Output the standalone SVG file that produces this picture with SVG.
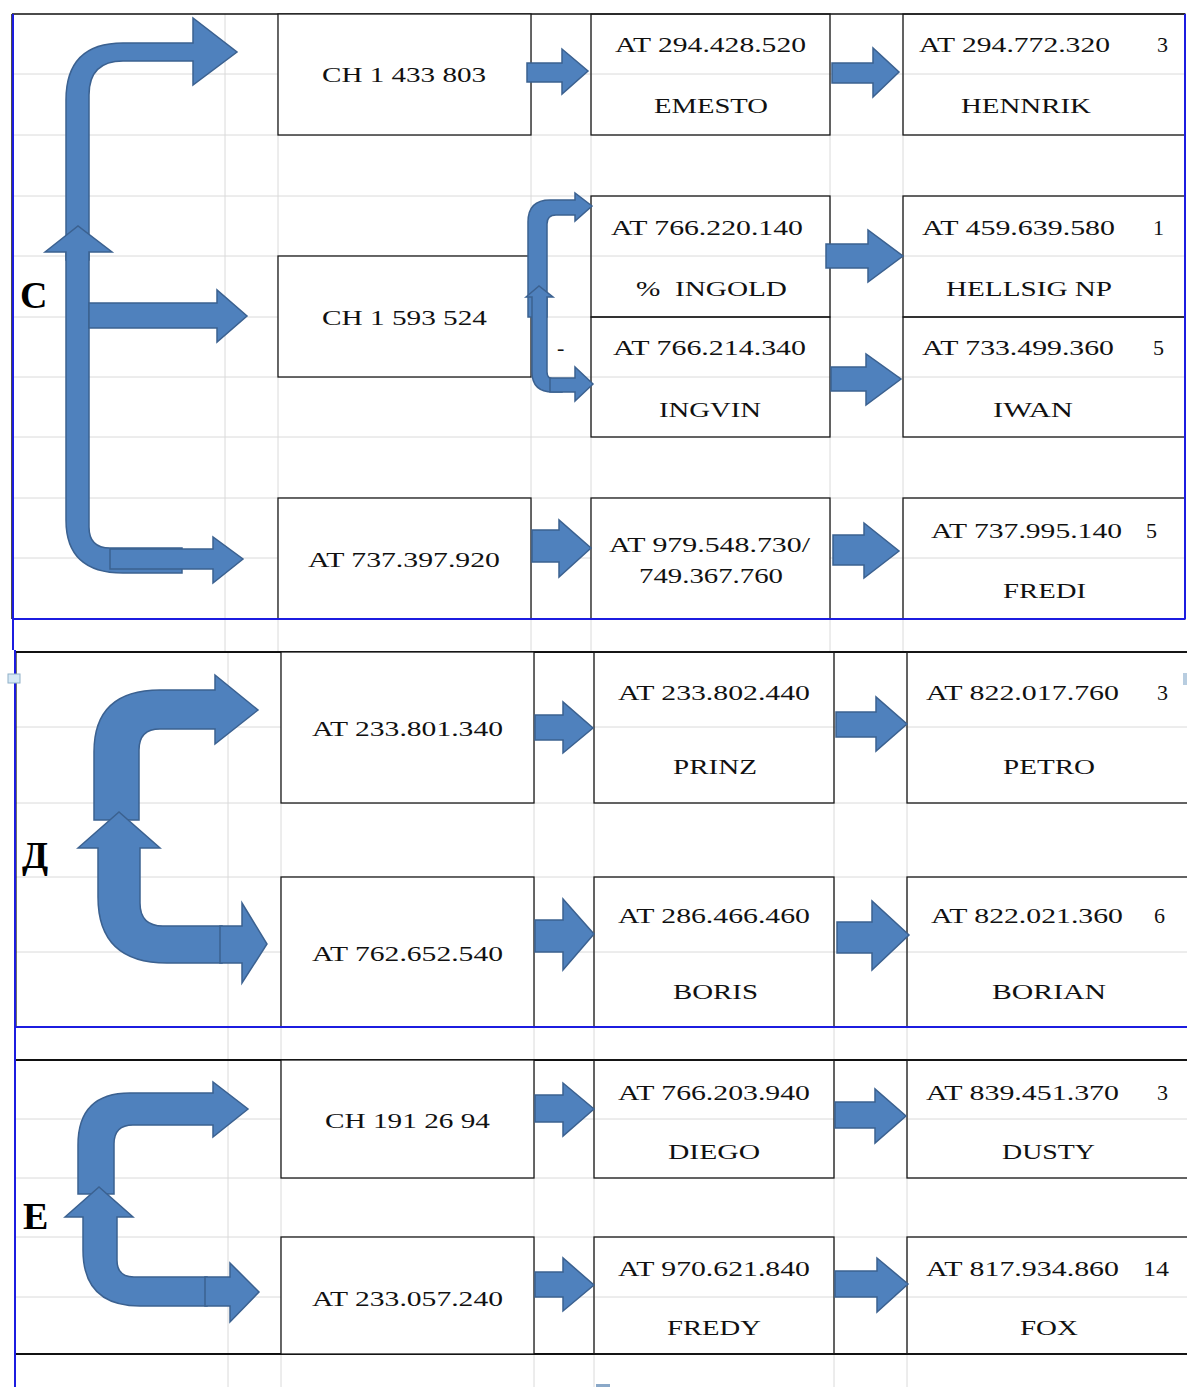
<svg xmlns="http://www.w3.org/2000/svg" width="1187" height="1387" viewBox="0 0 1187 1387">
<style>
.grid{stroke:#dadada;stroke-width:1;fill:none}
.box{fill:none;stroke:#1a1a1a;stroke-width:1.3}
.boxw{fill:#fff;stroke:#1a1a1a;stroke-width:1.3}
.edge{stroke:#111;fill:none}
.blue{stroke:#1c1ce0;stroke-width:2;fill:none}
.arr{fill:#4f81bd;stroke:#3b6190;stroke-width:1.5;stroke-linejoin:miter}
.t{font-family:"Liberation Serif","Times New Roman",serif;font-size:22px;fill:#111;white-space:pre}
.sec{font-family:"Liberation Serif","Times New Roman",serif;font-size:38px;font-weight:bold;fill:#000}
</style>
<rect width="1187" height="1387" fill="#fff"/>
<g id="gridlines">
<path class="grid" d="M12,74H1185M12,135H1185M12,196H1185M12,256H1185M12,317H1185M12,377H1185M12,437H1185M12,498H1185M12,558H1185"/>
<path class="grid" d="M225,14V652M278,14V652M531,14V652M591,14V652M830,14V652M903,14V652"/>
<path class="grid" d="M15,727H1187M15,803H1187M15,877H1187M15,952H1187"/>
<path class="grid" d="M15,1119H1187M15,1178H1187M15,1237H1187M15,1297H1187"/>
<path class="grid" d="M228,652V1387M281,652V1387M534,652V1387M594,652V1387M834,652V1387M907,652V1387"/>
</g>
<g id="frames">
<path class="edge" stroke-width="1.5" d="M12,14H1185M12,14V619"/>
<path class="edge" stroke-width="2.2" d="M15,652H1187M15.5,652V1027"/>
<path class="edge" stroke-width="1.8" d="M15,1060H1187M15,1060V1354M15,1354H1187"/>
</g>
<g id="labels">
<text class="sec" x="20" y="308">C</text>
<text class="sec" x="22" y="868">Д</text>
<text class="sec" x="23" y="1229">E</text>
</g>
<g id="n-ch1433803"><rect class="boxw" x="278" y="14" width="253" height="121"/><text class="t" x="322" y="82" textLength="164" lengthAdjust="spacingAndGlyphs">CH 1 433 803</text></g>
<g id="n-emesto"><rect class="box" x="591" y="14" width="239" height="121"/><text class="t" x="615" y="52" textLength="191" lengthAdjust="spacingAndGlyphs">AT 294.428.520</text><text class="t" x="654" y="113" textLength="114" lengthAdjust="spacingAndGlyphs">EMESTO</text></g>
<g id="n-hennrik"><rect class="box" x="903" y="14" width="282" height="121"/><text class="t" x="919" y="52" textLength="191" lengthAdjust="spacingAndGlyphs">AT 294.772.320</text><text class="t" x="1157" y="52">3</text><text class="t" x="961" y="113" textLength="130" lengthAdjust="spacingAndGlyphs">HENNRIK</text></g>
<g id="n-ch1593524"><rect class="boxw" x="278" y="256" width="253" height="121"/><text class="t" x="322" y="325" textLength="165" lengthAdjust="spacingAndGlyphs">CH 1 593 524</text></g>
<g id="n-ingold"><rect class="box" x="591" y="196" width="239" height="121"/><text class="t" x="611" y="235" textLength="192" lengthAdjust="spacingAndGlyphs">AT 766.220.140</text><text class="t" x="636" y="296" textLength="151" lengthAdjust="spacingAndGlyphs">%  INGOLD</text></g>
<g id="n-ingvin"><rect class="box" x="591" y="317" width="239" height="120"/><text class="t" x="613" y="355" textLength="193" lengthAdjust="spacingAndGlyphs">AT 766.214.340</text><text class="t" x="659" y="417" textLength="102" lengthAdjust="spacingAndGlyphs">INGVIN</text></g>
<g id="n-hellsig"><rect class="box" x="903" y="196" width="282" height="121"/><text class="t" x="922" y="235" textLength="193" lengthAdjust="spacingAndGlyphs">AT 459.639.580</text><text class="t" x="1153" y="235">1</text><text class="t" x="946" y="296" textLength="166" lengthAdjust="spacingAndGlyphs">HELLSIG NP</text></g>
<g id="n-iwan"><rect class="box" x="903" y="317" width="282" height="120"/><text class="t" x="922" y="355" textLength="192" lengthAdjust="spacingAndGlyphs">AT 733.499.360</text><text class="t" x="1153" y="355">5</text><text class="t" x="993" y="417" textLength="80" lengthAdjust="spacingAndGlyphs">IWAN</text></g>
<g id="n-at737397920"><rect class="boxw" x="278" y="498" width="253" height="121"/><text class="t" x="308" y="567" textLength="192" lengthAdjust="spacingAndGlyphs">AT 737.397.920</text></g>
<g id="n-at979548730"><rect class="boxw" x="591" y="498" width="239" height="121"/><text class="t" x="609" y="552" textLength="201" lengthAdjust="spacingAndGlyphs">AT 979.548.730/</text><text class="t" x="639" y="583" textLength="144" lengthAdjust="spacingAndGlyphs">749.367.760</text></g>
<g id="n-fredi"><rect class="box" x="903" y="498" width="282" height="121"/><text class="t" x="931" y="538" textLength="191" lengthAdjust="spacingAndGlyphs">AT 737.995.140</text><text class="t" x="1146" y="538">5</text><text class="t" x="1003" y="598" textLength="83" lengthAdjust="spacingAndGlyphs">FREDI</text></g>
<g id="n-at233801340"><rect class="boxw" x="281" y="652" width="253" height="151"/><text class="t" x="312" y="736" textLength="191" lengthAdjust="spacingAndGlyphs">AT 233.801.340</text></g>
<g id="n-prinz"><rect class="box" x="594" y="652" width="240" height="151"/><text class="t" x="618" y="700" textLength="192" lengthAdjust="spacingAndGlyphs">AT 233.802.440</text><text class="t" x="673" y="774" textLength="84" lengthAdjust="spacingAndGlyphs">PRINZ</text></g>
<g id="n-petro"><rect class="box" x="907" y="652" width="281" height="151"/><text class="t" x="926" y="700" textLength="193" lengthAdjust="spacingAndGlyphs">AT 822.017.760</text><text class="t" x="1157" y="700">3</text><text class="t" x="1003" y="774" textLength="92" lengthAdjust="spacingAndGlyphs">PETRO</text></g>
<g id="n-at762652540"><rect class="boxw" x="281" y="877" width="253" height="150"/><text class="t" x="312" y="961" textLength="191" lengthAdjust="spacingAndGlyphs">AT 762.652.540</text></g>
<g id="n-boris"><rect class="box" x="594" y="877" width="240" height="150"/><text class="t" x="618" y="923" textLength="192" lengthAdjust="spacingAndGlyphs">AT 286.466.460</text><text class="t" x="673" y="999" textLength="85" lengthAdjust="spacingAndGlyphs">BORIS</text></g>
<g id="n-borian"><rect class="box" x="907" y="877" width="281" height="150"/><text class="t" x="931" y="923" textLength="192" lengthAdjust="spacingAndGlyphs">AT 822.021.360</text><text class="t" x="1154" y="923">6</text><text class="t" x="992" y="999" textLength="114" lengthAdjust="spacingAndGlyphs">BORIAN</text></g>
<g id="n-ch1912694"><rect class="boxw" x="281" y="1060" width="253" height="118"/><text class="t" x="325" y="1128" textLength="165" lengthAdjust="spacingAndGlyphs">CH 191 26 94</text></g>
<g id="n-diego"><rect class="box" x="594" y="1060" width="240" height="118"/><text class="t" x="618" y="1100" textLength="192" lengthAdjust="spacingAndGlyphs">AT 766.203.940</text><text class="t" x="668" y="1159" textLength="92" lengthAdjust="spacingAndGlyphs">DIEGO</text></g>
<g id="n-dusty"><rect class="box" x="907" y="1060" width="281" height="118"/><text class="t" x="926" y="1100" textLength="193" lengthAdjust="spacingAndGlyphs">AT 839.451.370</text><text class="t" x="1157" y="1100">3</text><text class="t" x="1002" y="1159" textLength="93" lengthAdjust="spacingAndGlyphs">DUSTY</text></g>
<g id="n-at233057240"><rect class="boxw" x="281" y="1237" width="253" height="117"/><text class="t" x="312" y="1306" textLength="191" lengthAdjust="spacingAndGlyphs">AT 233.057.240</text></g>
<g id="n-fredy"><rect class="box" x="594" y="1237" width="240" height="117"/><text class="t" x="618" y="1276" textLength="192" lengthAdjust="spacingAndGlyphs">AT 970.621.840</text><text class="t" x="667" y="1335" textLength="94" lengthAdjust="spacingAndGlyphs">FREDY</text></g>
<g id="n-fox"><rect class="box" x="907" y="1237" width="281" height="117"/><text class="t" x="926" y="1276" textLength="193" lengthAdjust="spacingAndGlyphs">AT 817.934.860</text><text class="t" x="1143" y="1276" textLength="26" lengthAdjust="spacingAndGlyphs">14</text><text class="t" x="1020" y="1335" textLength="58" lengthAdjust="spacingAndGlyphs">FOX</text></g>
<g id="dash"><text class="t" x="557" y="355">-</text></g>
<g id="bluelines">
<path class="blue" d="M13,14V650M15,650V1387"/>
<path class="blue" d="M12,619H1185M1185,14V619M15,1027H1187"/>
<rect x="8" y="674" width="12" height="9" fill="#d6e9f5" stroke="#8fb0c8" stroke-width="1"/>
<rect x="1183" y="673" width="4" height="12" fill="#b8cde0"/>
<rect x="596" y="1384" width="14" height="3" fill="#8aa8c8"/>
</g>
<g id="connectors">
<path class="arr" d="M66,260 L66,100 Q66,43 123,43 L193,43 L193,18 L237,52 L193,85 L193,61 L123,61 Q89,61 89,95 L89,260 Z"/>
<path class="arr" d="M45,252 L78,226 L112,252 L89,252 L89,527 Q89,548 110,548 L182,548 L182,573 L123,573 Q66,573 66,520 L66,252 Z"/>
<path class="arr" d="M110,549 L213,549 L213,537 L243,559 L213,583 L213,569 L110,569 Z"/>
<path class="arr" d="M89,303 L217,303 L217,290 L247,316 L217,342 L217,328 L89,328 Z"/>
<path class="arr" d="M528,317 L528,222 Q528,200 550,200 L575,200 L575,193 L592,206 L575,221 L575,215 L556,215 Q547,215 547,224 L547,317 Z"/>
<path class="arr" d="M526,297 L539,286 L553,297 L547,297 L547,372 Q547,379 554,379 L562,379 L562,392 L553,392 Q532,392 532,372 L532,297 Z"/>
<path class="arr" d="M550,378 L575,378 L575,367 L593,384 L575,401 L575,392 L550,392 Z"/>
<path class="arr" d="M94,820 L94,752 Q94,690 160,690 L215,690 L215,675 L258,710 L215,744 L215,729 L160,729 Q139,729 139,750 L139,820 Z"/>
<path class="arr" d="M78,848 L119,812 L160,848 L140,848 L140,903 Q140,926 163,926 L222,926 L222,963 L167,963 Q98,963 98,897 L98,848 Z"/>
<path class="arr" d="M220,926 L242,926 L242,903 L267,944 L242,983 L242,963 L220,963 Z"/>
<path class="arr" d="M78,1194 L78,1145 Q78,1093 130,1093 L213,1093 L213,1082 L248,1109 L213,1137 L213,1125 L133,1125 Q114,1125 114,1144 L114,1194 Z"/>
<path class="arr" d="M65,1217 L99,1187 L133,1217 L117,1217 L117,1260 Q117,1277 134,1277 L207,1277 L207,1306 L140,1306 Q83,1306 83,1250 L83,1217 Z"/>
<path class="arr" d="M205,1277 L230,1277 L230,1263 L259,1292 L230,1322 L230,1306 L205,1306 Z"/>
<path class="arr" d="M527,63 L562,63 L562,49 L588,71 L562,94 L562,82 L527,82 Z"/>
<path class="arr" d="M832,63 L873,63 L873,48 L899,72 L873,97 L873,83 L832,83 Z"/>
<path class="arr" d="M826,244 L868,244 L868,230 L903,256 L868,282 L868,268 L826,268 Z"/>
<path class="arr" d="M831,367 L866,367 L866,354 L901,379 L866,405 L866,391 L831,391 Z"/>
<path class="arr" d="M532,530 L559,530 L559,520 L591,548 L559,577 L559,562 L532,562 Z"/>
<path class="arr" d="M833,535 L864,535 L864,523 L899,551 L864,578 L864,565 L833,565 Z"/>
<path class="arr" d="M535,715 L563,715 L563,702 L593,728 L563,753 L563,740 L535,740 Z"/>
<path class="arr" d="M836,712 L876,712 L876,697 L907,724 L876,751 L876,737 L836,737 Z"/>
<path class="arr" d="M535,920 L563,920 L563,899 L594,934 L563,970 L563,952 L535,952 Z"/>
<path class="arr" d="M837,922 L872,922 L872,901 L909,935 L872,970 L872,953 L837,953 Z"/>
<path class="arr" d="M535,1095 L563,1095 L563,1083 L594,1109 L563,1136 L563,1122 L535,1122 Z"/>
<path class="arr" d="M535,1272 L563,1272 L563,1258 L594,1285 L563,1311 L563,1297 L535,1297 Z"/>
<path class="arr" d="M835,1102 L875,1102 L875,1089 L906,1116 L875,1143 L875,1128 L835,1128 Z"/>
<path class="arr" d="M835,1271 L877,1271 L877,1258 L908,1284 L877,1312 L877,1297 L835,1297 Z"/>
</g>
</svg>
